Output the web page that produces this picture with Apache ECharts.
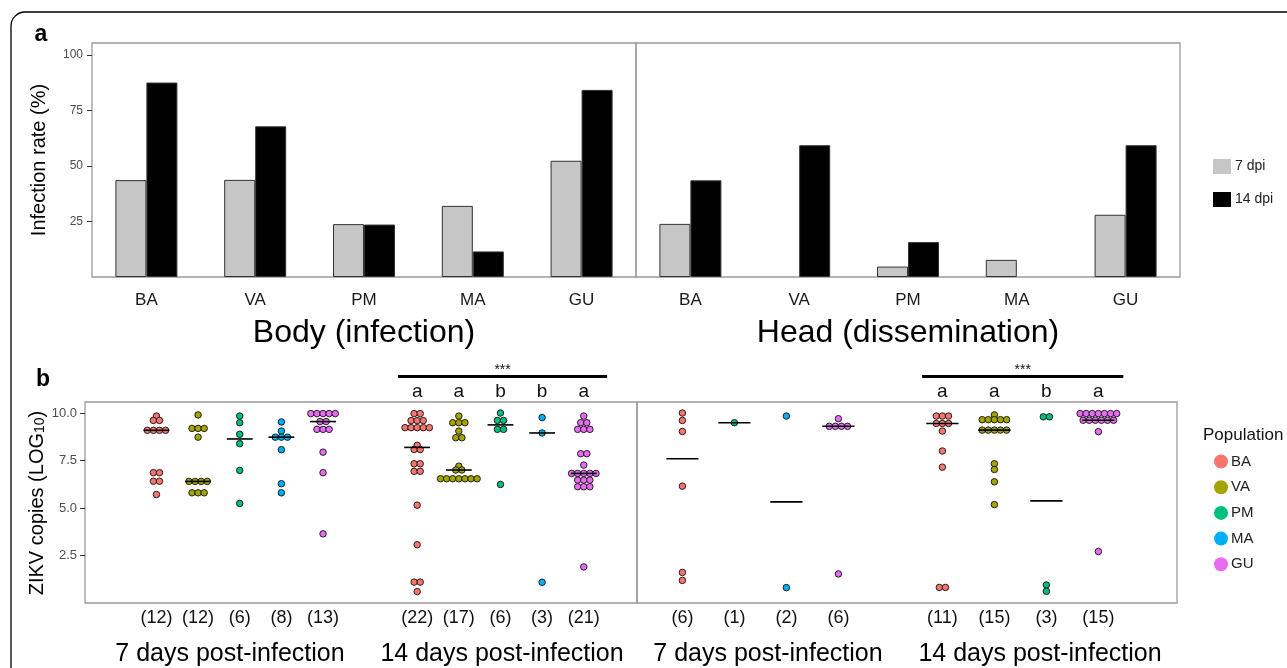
<!DOCTYPE html>
<html>
<head>
<meta charset="utf-8">
<script src="https://cdn.jsdelivr.net/npm/echarts@6/dist/echarts.min.js"></script>
<style>
  html, body { margin: 0; padding: 0; background: #fff; }
  #chart { width: 1287px; height: 668px; }
</style>
</head>
<body>
<div id="chart"></div>
<script>
// ---- data ----
const populations = ['BA', 'VA', 'PM', 'MA', 'GU'];
const popColors = ['#F8766D', '#A3A500', '#00BF7D', '#00B0F6', '#E76BF3'];

// panel a: infection rate (%)
const bodyRate7 = [43.6, 43.7, 23.8, 32.0, 52.3];
const bodyRate14 = [87.5, 67.8, 23.6, 11.5, 84.2];
const headRate7 = [23.9, null, 4.7, 7.7, 28.0];
const headRate14 = [43.5, 59.3, 15.7, null, 59.3];

// panel b: ZIKV copies (log10), body
const bodyCopies7 = {
    BA: [9.84, 9.61, 9.61, 9.09, 9.09, 9.09, 9.09, 6.86, 6.86, 6.41, 6.41, 5.71],
    VA: [9.9, 9.19, 9.19, 9.19, 8.73, 6.4, 6.4, 6.4, 6.4, 5.8, 5.8, 5.8],
    PM: [9.84, 9.49, 8.88, 8.39, 6.98, 5.24],
    MA: [9.53, 9.05, 8.73, 8.73, 8.73, 8.07, 6.28, 5.8],
    GU: [9.97, 9.97, 9.97, 9.97, 9.97, 9.55, 9.55, 9.14, 9.14, 9.14, 7.94, 6.86, 3.64],
};
const bodyCopies14 = {
    BA: [9.97, 9.97, 9.6, 9.6, 9.6, 9.23, 9.23, 9.23, 9.23, 9.23, 8.3, 8.08, 8.08, 7.33, 7.33, 6.93, 6.93, 5.15, 3.07, 1.1, 1.1, 0.6],
    VA: [9.84, 9.49, 9.49, 9.49, 9.05, 8.7, 8.7, 7.2, 7.0, 7.0, 6.54, 6.54, 6.54, 6.54, 6.54, 6.54, 6.54],
    PM: [10.0, 9.61, 9.61, 9.14, 9.14, 6.24],
    MA: [9.76, 8.95, 1.09],
    GU: [9.84, 9.49, 9.49, 9.14, 9.14, 9.14, 7.86, 7.86, 7.26, 6.82, 6.82, 6.82, 6.82, 6.82, 6.47, 6.47, 6.47, 6.12, 6.12, 6.12, 1.9],
};
const bodyCounts7 = [12, 12, 6, 8, 13];
const bodyCounts14 = [22, 17, 6, 3, 21];
const bodyLetters14 = ['a', 'a', 'b', 'b', 'a'];

// panel b: ZIKV copies (log10), head
const headPops7 = ['BA', 'PM', 'MA', 'GU'];
const headPops14 = ['BA', 'VA', 'PM', 'GU'];
const headCopies7 = {
    BA: [10.0, 9.61, 9.03, 6.15, 1.61, 1.19],
    PM: [9.49],
    MA: [9.84, 0.81],
    GU: [9.7, 9.3, 9.3, 9.3, 9.3, 1.53],
};
const headCopies14 = {
    BA: [9.84, 9.84, 9.84, 9.45, 9.45, 9.45, 9.05, 8.0, 7.15, 0.82, 0.82],
    VA: [9.9, 9.65, 9.65, 9.65, 9.65, 9.65, 9.1, 9.1, 9.1, 9.1, 9.1, 7.33, 7.03, 6.38, 5.18],
    PM: [9.8, 9.8, 0.95, 0.62],
    GU: [9.97, 9.97, 9.97, 9.97, 9.97, 9.97, 9.97, 9.62, 9.62, 9.62, 9.62, 9.62, 9.62, 9.02, 2.71],
};
const headCounts7 = [6, 1, 2, 6];
const headCounts14 = [11, 15, 3, 15];
const headLetters14 = ['a', 'a', 'b', 'a'];

const rateTicks = [25, 50, 75, 100];
const copiesTicks = [2.5, 5, 7.5, 10];

// ---- layout helpers ----
const FONT = '"Liberation Sans", Arial, sans-serif';
const NARROW = '"Liberation Sans Narrow", "Arial Narrow", "Liberation Sans", sans-serif';
const DOT = 6.5;
const STEP = 6.1;

function median(arr) {
    const s = [...arr].sort((a, b) => a - b);
    const m = Math.floor(s.length / 2);
    return s.length % 2 ? s[m] : (s[m - 1] + s[m]) / 2;
}

// dots sharing a bin are stacked side by side (centred), like geom_dotplot
function stackOffsets(values) {
    const counts = {};
    values.forEach(v => { counts[v] = (counts[v] || 0) + 1; });
    const seen = {};
    return values.map(v => {
        seen[v] = seen[v] === undefined ? 0 : seen[v] + 1;
        return (seen[v] - (counts[v] - 1) / 2) * STEP;
    });
}

// column x positions (data units of the hidden x axis)
const bodyCols = [];
populations.forEach((p, i) => bodyCols.push({ pop: p, x: i + 1, values: bodyCopies7[p], count: bodyCounts7[i] }));
populations.forEach((p, i) => bodyCols.push({ pop: p, x: i + 7.26, values: bodyCopies14[p], count: bodyCounts14[i], letter: bodyLetters14[i] }));
const headCols = [];
headPops7.forEach((p, i) => headCols.push({ pop: p, x: i + 1, values: headCopies7[p], count: headCounts7[i] }));
headPops14.forEach((p, i) => headCols.push({ pop: p, x: i + 6, values: headCopies14[p], count: headCounts14[i], letter: headLetters14[i] }));

const COPIES_MAX = 10.58;

function dotSeries(cols, axisIdx) {
    return populations.map((p, pi) => {
        const data = [];
        cols.filter(c => c.pop === p).forEach(c => {
            const offs = stackOffsets(c.values);
            c.values.forEach((v, k) => data.push({ value: [c.x, v], symbolOffset: [offs[k], 0] }));
        });
        return {
            name: p,
            type: 'scatter',
            xAxisIndex: axisIdx,
            yAxisIndex: axisIdx,
            symbol: 'circle',
            symbolSize: DOT,
            itemStyle: { color: popColors[pi], borderColor: '#111', borderWidth: 0.9, opacity: 1 },
            emphasis: { disabled: true },
            data,
            z: 3,
        };
    });
}

// median bar, sample size below, letter above
function annotSeries(cols, axisIdx) {
    return {
        type: 'custom',
        xAxisIndex: axisIdx,
        yAxisIndex: axisIdx,
        clip: false,
        z: 5,
        data: cols.map(c => [c.x, median(c.values)]),
        renderItem: (params, api) => {
            const c = cols[params.dataIndex];
            const x = api.value(0), m = api.value(1);
            const a = api.coord([x - 0.31, m]);
            const b = api.coord([x + 0.31, m]);
            const bottom = api.coord([x, 0]);
            const top = api.coord([x, COPIES_MAX]);
            const children = [
                { type: 'line', shape: { x1: a[0], y1: a[1], x2: b[0], y2: b[1] }, style: { stroke: '#000', lineWidth: 1.6 } },
                { type: 'text', x: bottom[0], y: bottom[1] + 15, style: { text: '(' + c.count + ')', fontSize: 18, fontFamily: FONT, fill: '#111', align: 'center', verticalAlign: 'middle' } },
            ];
            if (c.letter) {
                children.push({ type: 'text', x: top[0], y: top[1] - 10.5, style: { text: c.letter, fontSize: 19, fontFamily: FONT, fill: '#111', align: 'center', verticalAlign: 'middle' } });
            }
            return { type: 'group', children };
        },
    };
}

function signifSeries(cols, axisIdx, padL, padR) {
    const lettered = cols.filter(c => c.letter);
    const x1 = lettered[0].x - padL, x2 = lettered[lettered.length - 1].x + padR;
    return {
        type: 'custom',
        xAxisIndex: axisIdx,
        yAxisIndex: axisIdx,
        clip: false,
        z: 5,
        data: [[x1, x2]],
        renderItem: (params, api) => {
            const a = api.coord([api.value(0), COPIES_MAX]);
            const b = api.coord([api.value(1), COPIES_MAX]);
            const y = a[1] - 25.5;
            return {
                type: 'group',
                children: [
                    { type: 'line', shape: { x1: a[0], y1: y, x2: b[0], y2: y }, style: { stroke: '#000', lineWidth: 3 } },
                    { type: 'text', x: (a[0] + b[0]) / 2, y: y - 6, style: { text: '***', fontSize: 14, fontFamily: FONT, fill: '#111', align: 'center', verticalAlign: 'middle' } },
                ],
            };
        },
    };
}

function barSeries(name, data, axisIdx, color) {
    return {
        name,
        type: 'bar',
        xAxisIndex: axisIdx,
        yAxisIndex: axisIdx,
        data,
        barWidth: 31,
        barGap: '0%',
        itemStyle: { color, borderColor: '#333', borderWidth: 1 },
        emphasis: { disabled: true },
    };
}

const gridBorder = { show: true, borderColor: '#9a9a9a', borderWidth: 1.3 };

const rateAxisBase = {
    type: 'value', min: 0, max: 105.3, interval: 25,
    axisLine: { show: false, onZero: false }, splitLine: { show: false },
};
const copiesAxisBase = {
    type: 'value', min: 0, max: COPIES_MAX, interval: 2.5,
    axisLine: { show: false, onZero: false }, splitLine: { show: false },
};

const catAxis = (name) => ({
    type: 'category',
    data: populations,
    axisLine: { show: false, onZero: false },
    axisTick: { show: false },
    axisLabel: { fontSize: 17, fontFamily: FONT, color: '#1a1a1a', margin: 15 },
    name,
    nameLocation: 'middle',
    nameGap: 40,
    nameTextStyle: { fontSize: 32, fontFamily: FONT, color: '#000' },
});

const option = {
    animation: false,
    backgroundColor: '#fff',
    grid: [
        { left: 92, top: 43, width: 544, height: 234, ...gridBorder },
        { left: 636, top: 43, width: 544, height: 234, ...gridBorder },
        { left: 85, top: 402, width: 552, height: 201, ...gridBorder },
        { left: 637, top: 402, width: 540, height: 201, ...gridBorder },
    ],
    xAxis: [
        { gridIndex: 0, ...catAxis('Body (infection)') },
        { gridIndex: 1, ...catAxis('Head (dissemination)') },
        { gridIndex: 2, type: 'value', min: -0.715, max: 12.538, show: false },
        { gridIndex: 3, type: 'value', min: 0.127, max: 10.512, show: false },
    ],
    yAxis: [
        {
            gridIndex: 0, position: 'left', ...rateAxisBase,
            axisTick: { show: true, length: 5, lineStyle: { color: '#333' }, customValues: rateTicks },
            axisLabel: {
                fontSize: 12, fontFamily: NARROW, color: '#4d4d4d', margin: 9, customValues: rateTicks,
                formatter: v => (rateTicks.includes(v) ? String(v) : ''),
            },
        },
        { gridIndex: 1, ...rateAxisBase, axisTick: { show: false }, axisLabel: { show: false } },
        {
            gridIndex: 2, position: 'left', ...copiesAxisBase,
            axisTick: { show: true, length: 5, lineStyle: { color: '#333' }, customValues: copiesTicks },
            axisLabel: {
                fontSize: 13, fontFamily: NARROW, color: '#4d4d4d', margin: 8, customValues: copiesTicks,
                formatter: v => (copiesTicks.includes(v) ? v.toFixed(1) : ''),
            },
        },
        { gridIndex: 3, ...copiesAxisBase, axisTick: { show: false }, axisLabel: { show: false } },
    ],
    legend: [
        {
            data: ['7 dpi', '14 dpi'],
            orient: 'vertical', left: 1208, top: 154,
            itemWidth: 18, itemHeight: 15, itemGap: 18,
            icon: 'rect', selectedMode: false,
            itemStyle: { borderWidth: 0 },
            textStyle: { fontSize: 14, fontFamily: NARROW, color: '#222', padding: [0, 0, 0, -1] },
        },
        {
            data: populations,
            orient: 'vertical', left: 1209, top: 449,
            itemWidth: 14, itemHeight: 14, itemGap: 10.7,
            icon: 'circle', selectedMode: false,
            itemStyle: { borderWidth: 0 },
            textStyle: { fontSize: 15, fontFamily: NARROW, color: '#222', padding: [0, 0, 0, -2] },
        },
    ],
    graphic: [
        { type: 'rect', shape: { x: 11, y: 12, width: 1400, height: 800, r: 14 }, style: { fill: 'none', stroke: '#000', lineWidth: 1.3 }, silent: true },
        { type: 'text', x: 41, y: 35, style: { text: 'a', fontSize: 23, fontWeight: 'bold', fontFamily: FONT, fill: '#000', align: 'center', verticalAlign: 'middle' } },
        { type: 'text', x: 43, y: 380, style: { text: 'b', fontSize: 23, fontWeight: 'bold', fontFamily: FONT, fill: '#000', align: 'center', verticalAlign: 'middle' } },
        { type: 'text', x: 39, y: 160, rotation: Math.PI / 2, style: { text: 'Infection rate (%)', fontSize: 20, fontFamily: FONT, fill: '#000', align: 'center', verticalAlign: 'middle' } },
        {
            type: 'text', x: 37, y: 503, rotation: Math.PI / 2,
            style: {
                text: '{m|ZIKV copies (LOG}{s|10}{m|)}', fontFamily: FONT, fill: '#000', align: 'center', verticalAlign: 'middle',
                rich: { m: { fontSize: 20, fontFamily: FONT }, s: { fontSize: 14, fontFamily: FONT, verticalAlign: 'bottom' } },
            },
        },
        { type: 'text', x: 1203, y: 435, style: { text: 'Population', fontSize: 17, fontFamily: NARROW, fill: '#111', align: 'left', verticalAlign: 'middle' } },
        { type: 'text', x: 230, y: 654, style: { text: '7 days post-infection', fontSize: 25, fontFamily: FONT, fill: '#000', align: 'center', verticalAlign: 'middle' } },
        { type: 'text', x: 502, y: 654, style: { text: '14 days post-infection', fontSize: 25, fontFamily: FONT, fill: '#000', align: 'center', verticalAlign: 'middle' } },
        { type: 'text', x: 768, y: 654, style: { text: '7 days post-infection', fontSize: 25, fontFamily: FONT, fill: '#000', align: 'center', verticalAlign: 'middle' } },
        { type: 'text', x: 1040, y: 654, style: { text: '14 days post-infection', fontSize: 25, fontFamily: FONT, fill: '#000', align: 'center', verticalAlign: 'middle' } },
    ],
    series: [
        barSeries('7 dpi', bodyRate7, 0, '#c6c6c6'),
        barSeries('14 dpi', bodyRate14, 0, '#000'),
        barSeries('7 dpi', headRate7, 1, '#c6c6c6'),
        barSeries('14 dpi', headRate14, 1, '#000'),
        ...dotSeries(bodyCols, 2),
        ...dotSeries(headCols, 3),
        annotSeries(bodyCols, 2),
        annotSeries(headCols, 3),
        signifSeries(bodyCols, 2, 0.46, 0.56),
        signifSeries(headCols, 3, 0.39, 0.48),
    ],
};

const chart = echarts.init(document.getElementById('chart'));
chart.setOption(option);
</script>
</body>
</html>
